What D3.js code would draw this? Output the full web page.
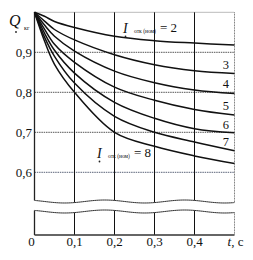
<!DOCTYPE html>
<html>
<head>
<meta charset="utf-8">
<script src="https://cdn.jsdelivr.net/npm/d3@7"></script>
<style>
  body { margin: 0; background: #fff; }
  svg text { font-family: "Liberation Serif", "DejaVu Serif", serif; fill: #111; }
</style>
</head>
<body>
<div id="chart"></div>
<script>
// time, s
const times = [0, 0.025, 0.05, 0.1, 0.2, 0.3, 0.4, 0.5];
// Q values for each I ratio
const q2 = [1.0, 0.99, 0.977, 0.962, 0.94, 0.929, 0.923, 0.918];
const q3 = [1.0, 0.978, 0.957, 0.931, 0.894, 0.869, 0.854, 0.847];
const q4 = [1.0, 0.968, 0.94, 0.903, 0.853, 0.824, 0.806, 0.797];
const q5 = [1.0, 0.958, 0.92, 0.875, 0.813, 0.78, 0.757, 0.743];
const q6 = [1.0, 0.948, 0.905, 0.848, 0.775, 0.735, 0.709, 0.699];
const q7 = [1.0, 0.938, 0.89, 0.823, 0.74, 0.70, 0.676, 0.654];
const q8 = [1.0, 0.928, 0.87, 0.80, 0.70, 0.665, 0.641, 0.622];
const seriesList = [q2, q3, q4, q5, q6, q7, q8];
const curveNames = ["2", "3", "4", "5", "6", "7", "8"];

const yTicks = [0.9, 0.8, 0.7, 0.6];
const xTicks = [0, 0.1, 0.2, 0.3, 0.4];
const xTickLabels = ["0", "0,1", "0,2", "0,3", "0,4"];

const width = 253, height = 260;
const svg = d3.select("#chart").append("svg")
  .attr("width", width)
  .attr("height", height);

const x = d3.scaleLinear().domain([0, 0.5]).range([34.5, 234.5]);
const y = d3.scaleLinear().domain([0.6, 1.0]).range([172.3, 12.3]);

const topY = y(1.0);
const axisY = 235;
const breakTop = 201.5, breakBottom = 211.5;
const wave = (px, base) => base + 1.5 * Math.sin((px - 34.5) / 80 * 2 * Math.PI - 0.8);

// horizontal grid
svg.selectAll(".hgrid").data(yTicks).enter().append("line")
  .attr("x1", x(0)).attr("x2", x(0.5))
  .attr("y1", d => y(d)).attr("y2", d => y(d))
  .attr("stroke", d => d === 0.6 ? "#5a6378" : "#555")
  .attr("stroke-width", 1)
  .attr("stroke-dasharray", "1.5,0.8");

// top border
svg.append("line")
  .attr("x1", x(0)).attr("x2", x(0.5))
  .attr("y1", topY).attr("y2", topY)
  .attr("stroke", "#777").attr("stroke-dasharray", "1,1");

// vertical grid, upper and lower panels
[0.1, 0.2, 0.3, 0.4].forEach(t => {
  svg.append("line")
    .attr("x1", x(t)).attr("x2", x(t))
    .attr("y1", topY).attr("y2", wave(x(t), breakTop))
    .attr("stroke", "#111").attr("stroke-width", 1);
  svg.append("line")
    .attr("x1", x(t)).attr("x2", x(t))
    .attr("y1", wave(x(t), breakBottom)).attr("y2", axisY)
    .attr("stroke", "#111").attr("stroke-width", 1);
});

// right border
svg.append("line")
  .attr("x1", x(0.5)).attr("x2", x(0.5))
  .attr("y1", topY).attr("y2", wave(x(0.5), breakTop))
  .attr("stroke", "#777").attr("stroke-dasharray", "1,0.6");
svg.append("line")
  .attr("x1", x(0.5)).attr("x2", x(0.5))
  .attr("y1", wave(x(0.5), breakBottom)).attr("y2", axisY)
  .attr("stroke", "#777").attr("stroke-dasharray", "1,0.6");

// left border
svg.append("line")
  .attr("x1", x(0)).attr("x2", x(0))
  .attr("y1", topY).attr("y2", wave(x(0), breakTop))
  .attr("stroke", "#222").attr("stroke-width", 1.3);
svg.append("line")
  .attr("x1", x(0)).attr("x2", x(0))
  .attr("y1", wave(x(0), breakBottom)).attr("y2", axisY)
  .attr("stroke", "#222").attr("stroke-width", 1.3);

// break waves
const waveXs = d3.range(x(0), x(0.5) + 0.5, 2);
[breakTop, breakBottom].forEach(b => {
  svg.append("path")
    .attr("d", d3.line().x(d => d).y(d => wave(d, b)).curve(d3.curveBasis)(waveXs))
    .attr("fill", "none").attr("stroke", "#333").attr("stroke-width", 1);
});

// bottom axis line
svg.append("line")
  .attr("x1", x(0)).attr("x2", x(0.5))
  .attr("y1", axisY).attr("y2", axisY)
  .attr("stroke", "#333").attr("stroke-width", 1.3);

// curves
const line = d3.line()
  .x((d, i) => x(times[i]))
  .y(d => y(d))
  .curve(d3.curveCatmullRom.alpha(0.5));

svg.selectAll(".curve").data(seriesList).enter().append("path")
  .attr("d", d => line(d))
  .attr("fill", "none")
  .attr("stroke", "#111")
  .attr("stroke-width", 1.5);

// y tick labels
svg.selectAll(".ylab").data(yTicks).enter().append("text")
  .attr("x", 32).attr("y", d => y(d) + 4.5)
  .attr("text-anchor", "end")
  .attr("font-size", 13)
  .text(d => d3.format(".1f")(d).replace(".", ","));

// x tick labels
svg.selectAll(".xlab").data(xTicks).enter().append("text")
  .attr("x", (d, i) => i === 0 ? x(d) - 3 : x(d))
  .attr("y", 246)
  .attr("text-anchor", "middle")
  .attr("font-size", 13)
  .text((d, i) => xTickLabels[i]);

const tLab = svg.append("text")
  .attr("x", x(0.5) + 1).attr("y", 246)
  .attr("text-anchor", "middle")
  .attr("font-size", 13);
tLab.append("tspan").attr("font-style", "italic").text("t");
tLab.append("tspan").text(", c");

// Q label
svg.append("text").attr("x", 9).attr("y", 26)
  .attr("font-size", 16).attr("font-style", "italic").text("Q");
svg.append("text").attr("x", 24).attr("y", 30)
  .attr("font-size", 6).text("кг");
svg.append("circle").attr("cx", 16).attr("cy", 32).attr("r", 0.9).attr("fill", "#222");

// curve number labels at right
const labelY = { "3": 68.5, "4": 88, "5": 110, "6": 128.5, "7": 146 };
Object.keys(labelY).forEach(k => {
  svg.append("text")
    .attr("x", 229).attr("y", labelY[k])
    .attr("text-anchor", "end")
    .attr("font-size", 12.5)
    .text(k);
});

// I labels
function iLabel(xi, yi, val) {
  svg.append("text").attr("x", xi).attr("y", yi)
    .attr("font-size", 14).attr("font-style", "italic").text("I");
  svg.append("circle").attr("cx", xi + 2.5).attr("cy", yi + 3.5)
    .attr("r", 0.9).attr("fill", "#222");
  svg.append("text").attr("x", xi + 11).attr("y", yi - 0.5)
    .attr("font-size", 5.5).text("отк (ном)");
  svg.append("text").attr("x", xi + 37).attr("y", yi - 1)
    .attr("font-size", 13).text("= " + val);
}
iLabel(123, 33, curveNames[0]);
iLabel(97, 158, curveNames[6]);
</script>
</body>
</html>
